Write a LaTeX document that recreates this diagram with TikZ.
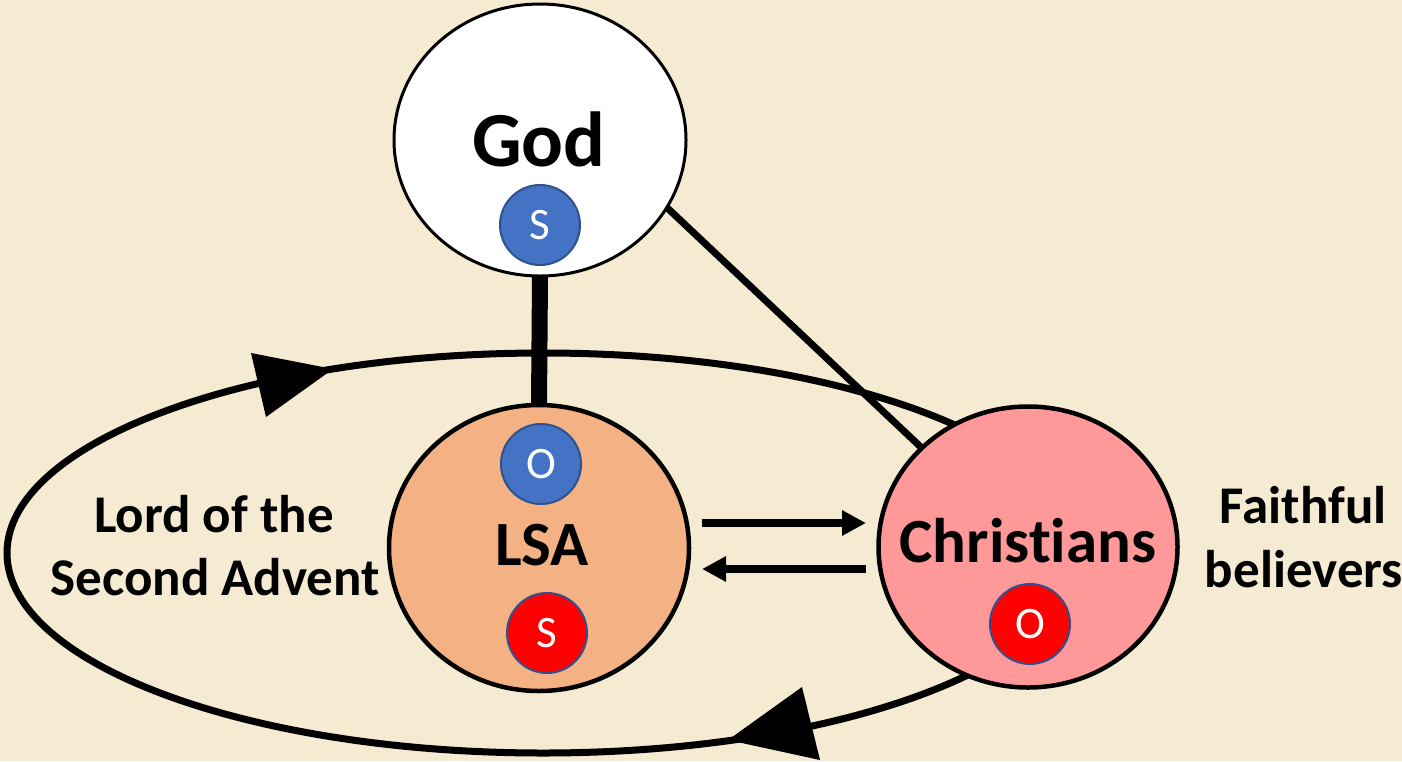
\documentclass[tikz,border=0pt]{standalone}
\usepackage{fontspec}
\setmainfont{Carlito}[RawFeature={-liga}]
\usetikzlibrary{arrows.meta,shapes.geometric}
\definecolor{bgc}{HTML}{F5EBD2}
\definecolor{lsafill}{HTML}{F4B183}
\definecolor{chrfill}{HTML}{FF9999}
\definecolor{sblue}{HTML}{4472C4}
\definecolor{sedge}{HTML}{2F528F}
\definecolor{sred}{HTML}{FF0000}
\pgfdeclarelayer{back}
\pgfsetlayers{back,main}
\begin{document}
\begin{tikzpicture}[x=1pt,y=-1pt,
  bigc/.style={ellipse, draw=black, inner sep=0pt, outer sep=0pt},
  smallc/.style={circle, draw=sedge, line width=2pt, minimum size=80pt, inner sep=0pt, text=white, font=\fontsize{45}{54}\selectfont},
  biglabel/.style={anchor=base, font=\bfseries\fontsize{63}{75}\selectfont},
  sidelabel/.style={anchor=base, font=\bfseries\fontsize{53}{63}\selectfont},
  flowarrow/.style={line width=8pt, -{Triangle[length=24pt,width=24pt]}},
  headtri/.style={fill=black}]
\useasboundingbox (0,0) rectangle (1402,761);
% main circles
\node[bigc, fill=white, line width=3pt, minimum width=292pt, minimum height=272pt] (god) at (540,140) {};
\node[bigc, fill=lsafill, line width=4.5pt, minimum width=300pt, minimum height=286pt] (lsa) at (539,548) {};
\node[bigc, fill=chrfill, line width=4.5pt, minimum width=299pt, minimum height=281pt] (chr) at (1028,547) {};
% small circles
\node[smallc, fill=sblue] (gs) at (540,225) {S};
\node[smallc, fill=sblue] (lo) at (541,464) {O};
\node[smallc, fill=sred] (ls) at (547,633) {S};
\node[smallc, fill=sred] (co) at (1030,624) {O};
% labels
\node[anchor=base, font=\bfseries\fontsize{78}{90}\selectfont] (godt) at (539,166) {God};
\node[biglabel] (lsat) at (542,565) {LSA};
\node[biglabel] (chrt) at (1028,562) {Christians};
\node[sidelabel] (lord1) at (214,532) {Lord of the};
\node[sidelabel] (lord2) at (215,595) {Second Advent};
\node[sidelabel] (faith1) at (1303,523) {Faithful};
\node[sidelabel] (faith2) at (1304,587) {believers};
% arrows between LSA and Christians
\coordinate (r1) at (702,523);
\coordinate (r2) at (866,523);
\coordinate (l1) at (866,569);
\coordinate (l2) at (702,569);
\draw[flowarrow] (r1) -- (r2);
\draw[flowarrow] (l1) -- (l2);
\begin{pgfonlayer}{back}
\fill[bgc] (0,0) rectangle (1402,761);
\draw[line width=7pt] (543,553) ellipse [x radius=536pt, y radius=200pt];
\fill[headtri] (251,353) -- (266,417) -- (333,369) -- cycle;
\fill[headtri] (802,687) -- (820,760) -- (728,740) -- cycle;
\draw[line width=7pt] (god.-28.7) -- (chr.137.7);
\draw[line width=16pt] (god.south) -- (lsa.north);
\end{pgfonlayer}
\end{tikzpicture}
\end{document}
